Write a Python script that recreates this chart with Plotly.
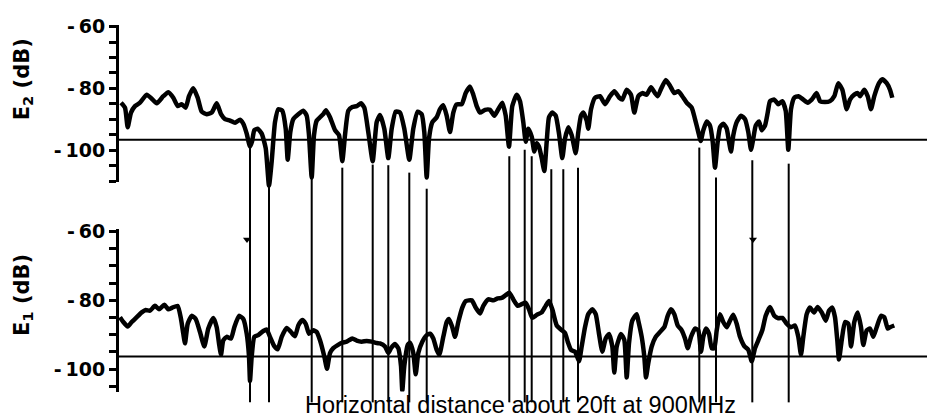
import plotly.graph_objects as go

# ---------------- data ----------------
# position along the run (arbitrary distance units, 0 = left axis), level in dB
e2_pos = [4, 8, 10.7, 14, 18, 23, 29.7, 34.7, 39.7, 46.3, 51.3, 56.3, 60.7, 64.7, 68.7, 72, 76.3, 80.7,
          84.7, 89.7, 94.7, 99.7, 104, 108, 113, 118, 123, 126.3, 129.7, 133, 135, 137.3, 140.7, 144.7,
          148.7, 152, 154.7, 158, 161.3, 165.3, 168.7, 170.7, 173.3, 176.3, 181.3, 186.3, 189.7, 192,
          194.7, 197, 199.7, 203, 206.3, 209, 213, 218, 222, 225.3, 228, 231.3, 235.3, 239.7, 244, 247.3,
          251.3, 255.7, 259.7, 263, 267.3, 271.3, 274.7, 278.7, 283, 287.3, 292.3, 296.3, 300.7, 304.7,
          307.3, 309.7, 312, 315.3, 319.7, 323, 326.3, 329.7, 333, 336.3, 339.7, 344.7, 348.7, 353, 356.3,
          359.7, 363, 368, 373, 377.3, 381.3, 385.3, 388.7, 392, 395.3, 399.7, 403, 406.3, 408.7, 411.3,
          414.7, 417.3, 419.7, 422, 424.7, 427.3, 429.7, 432, 435.3, 438.7, 442, 445.3, 448, 451.3, 454.7,
          458.7, 461.3, 464, 466.3, 469.7, 471.3, 474, 478, 483, 488, 493, 497.3, 502.3, 505.3, 509.7, 514,
          517.3, 521.3, 525.3, 529.7, 534, 538, 540.7, 544, 548.7, 553, 557.3, 561.3, 565.3, 569.7, 574.7,
          578, 581.3, 583.7, 586.3, 589.7, 593, 595.7, 598, 600.7, 603, 606.3, 609.7, 612, 614, 616.3,
          619.7, 624, 628, 631.3, 634, 636.3, 638.7, 642, 644.7, 648, 650.7, 653, 657.3, 661.3, 665.3,
          668.7, 671.3, 674, 677.3, 681.3, 686.3, 690.7, 694.7, 699.7, 703, 708, 713, 717.3, 721.3, 725.3,
          729.7, 733, 737.3, 740.7, 743, 747.3, 750.7, 754, 757.3, 762, 765.3, 769.7, 773, 775.3]
e2_db = [-84.6, -86.2, -92.5, -87.8, -85.7, -84.6, -82.0, -83.3, -84.8, -82.5, -81.2, -83.0, -85.7, -85.1,
         -86.2, -82.5, -79.9, -83.0, -87.5, -88.3, -87.8, -84.8, -88.3, -89.9, -90.4, -91.1, -90.1, -91.4,
         -94.6, -98.8, -97.2, -93.5, -93.0, -94.6, -99.3, -111.4, -103.5, -90.9, -86.7, -87.2, -93.0,
         -103.0, -94.1, -89.9, -88.3, -87.2, -88.8, -95.1, -108.8, -95.1, -90.4, -89.3, -88.3, -87.0,
         -89.3, -93.5, -95.1, -103.5, -95.1, -87.2, -86.0, -85.7, -84.8, -86.2, -94.1, -103.5, -90.9,
         -88.6, -93.0, -102.5, -93.0, -87.5, -87.8, -93.0, -103.0, -93.0, -87.5, -88.3, -94.1, -108.8,
         -96.2, -90.9, -89.3, -86.7, -85.4, -88.8, -94.1, -87.8, -85.1, -85.1, -81.5, -79.4, -82.0, -85.7,
         -87.8, -86.9, -86.9, -88.8, -86.7, -84.6, -88.8, -98.8, -85.7, -82.0, -84.1, -90.9, -97.2, -93.0,
         -95.6, -100.4, -97.7, -98.8, -102.5, -106.7, -97.2, -89.3, -87.8, -88.8, -94.6, -102.5, -96.2,
         -92.5, -95.1, -100.9, -94.1, -88.8, -87.8, -90.4, -93.0, -86.7, -83.0, -82.5, -85.1, -82.5, -80.9,
         -83.0, -83.6, -80.4, -82.0, -87.8, -82.5, -81.5, -82.0, -79.6, -81.5, -82.5, -80.2, -77.3, -79.1,
         -81.5, -80.9, -82.5, -84.6, -86.2, -89.9, -94.1, -97.0, -93.5, -90.7, -92.0, -97.2, -105.6, -97.2,
         -92.5, -91.4, -93.0, -97.2, -100.4, -95.1, -90.9, -88.8, -89.9, -94.1, -99.8, -96.2, -92.0, -90.7,
         -93.5, -92.0, -87.8, -84.1, -83.6, -85.1, -84.1, -87.2, -99.8, -86.7, -83.0, -82.5, -83.6, -84.6,
         -83.6, -81.5, -84.1, -84.4, -84.1, -82.5, -78.3, -80.4, -86.7, -83.6, -82.0, -81.5, -82.5, -80.4,
         -82.5, -86.7, -82.5, -78.3, -77.0, -78.3, -80.4, -83.0]

e1_pos = [3, 6.3, 10.7, 14.7, 19.7, 24.7, 28.7, 33, 38, 42, 47.3, 51.3, 55.3, 60.7, 64, 66.3, 68, 70.7, 74.7,
          78.7, 83, 87.3, 91.3, 96.3, 99.7, 102, 104, 106.3, 109.7, 114, 117.3, 122, 126.3, 129.7, 132, 133,
          134.7, 137.3, 141.3, 146.3, 149.7, 153, 157.3, 160.7, 164.7, 169.7, 174, 178, 181.3, 185.3, 188.7,
          192, 196.3, 199.7, 203, 207.3, 210, 213, 216.3, 220.7, 225.3, 229.7, 235.3, 239.7, 244.7, 249.7,
          254.7, 259.7, 263, 268, 271.3, 274, 278, 281.3, 284, 285.3, 287.3, 290.7, 293, 296.3, 298.7, 301.3,
          305.3, 309.7, 313, 316.3, 319.7, 322.3, 326.3, 329.7, 332, 335.3, 338, 341.3, 345.3, 348.7, 354.7,
          358.7, 363, 366.3, 371.3, 376.3, 380.7, 384.7, 388.7, 392.3, 396.3, 400.7, 404.7, 408.7, 412, 415.3,
          419.7, 424.7, 428.7, 432, 435.3, 439.7, 444, 448, 450.7, 454, 458, 462, 464.7, 468, 471.3, 475.3,
          478.7, 482, 485.3, 488.7, 492, 495.3, 497.3, 499.7, 504, 507.3, 509.7, 512, 515.3, 519.7, 521.3,
          524.7, 527.3, 529, 531.3, 534.7, 538.7, 543, 547.3, 550.7, 554, 557.3, 560.7, 564.7, 568, 570.7,
          574, 578, 581.3, 584, 586.3, 589, 592, 594.7, 597.3, 599.7, 603, 606.3, 609.7, 613, 616.3, 619.7,
          623, 627.3, 631.3, 634.7, 638, 641.3, 645.3, 648.7, 653, 657.3, 661.3, 665.3, 669.7, 674, 678,
          681.3, 684, 686.3, 689.7, 693, 697, 700.7, 704.7, 708.7, 712, 715.3, 718, 720.3, 722, 724.7, 728,
          731.3, 734, 737.3, 740.7, 744, 746.3, 749.7, 753, 756.3, 759.7, 764, 767.3, 770.7, 773, 777.3]
e1_db = [-84.9, -86.3, -87.6, -86.3, -84.9, -83.5, -82.8, -83.0, -81.6, -82.6, -81.3, -82.6, -82.1, -81.6,
         -85.4, -89.7, -92.5, -86.8, -84.5, -85.4, -89.2, -93.4, -88.2, -85.1, -87.8, -92.5, -95.8, -91.6,
         -90.6, -91.1, -87.8, -84.5, -85.4, -89.7, -96.3, -103.4, -96.3, -90.6, -90.1, -88.9, -88.5, -90.6,
         -93.3, -94.2, -90.6, -88.0, -89.2, -90.4, -87.3, -85.7, -86.8, -89.7, -88.7, -89.2, -91.6, -96.3,
         -99.9, -95.3, -93.9, -93.0, -92.3, -92.0, -91.1, -91.7, -92.0, -91.8, -92.0, -92.4, -92.5, -93.4,
         -95.3, -93.9, -92.7, -93.9, -99.1, -106.2, -99.1, -93.0, -92.3, -95.3, -101.5, -95.3, -92.0, -90.1,
         -89.7, -91.1, -94.4, -95.8, -90.6, -86.3, -85.4, -87.8, -90.6, -86.3, -82.1, -80.2, -80.0, -82.1,
         -83.8, -81.6, -79.7, -80.0, -79.4, -79.3, -78.5, -77.8, -79.7, -81.6, -81.1, -80.7, -82.6, -85.1,
         -84.2, -83.5, -81.6, -80.2, -82.6, -87.3, -88.5, -89.5, -92.0, -94.4, -94.9, -97.7, -93.4, -87.8,
         -84.0, -82.6, -84.0, -89.7, -94.9, -91.1, -89.8, -93.4, -101.0, -93.4, -89.8, -91.5, -102.4, -92.5,
         -85.9, -84.0, -85.9, -90.6, -96.3, -102.4, -98.2, -93.4, -90.6, -89.2, -87.8, -84.5, -82.6, -84.0,
         -87.3, -88.7, -91.1, -93.9, -90.6, -88.2, -88.7, -94.9, -90.6, -88.2, -89.7, -93.9, -93.9, -88.7,
         -84.0, -86.3, -87.8, -85.9, -84.2, -86.8, -90.6, -93.3, -94.4, -97.7, -93.9, -91.6, -88.7, -84.5,
         -81.9, -84.5, -85.2, -85.1, -86.8, -87.8, -87.3, -90.6, -95.8, -90.6, -84.0, -82.1, -83.5, -81.9,
         -83.5, -85.9, -83.0, -82.1, -84.9, -91.6, -97.2, -91.6, -86.3, -86.8, -93.4, -86.3, -83.5, -87.8,
         -93.0, -88.7, -88.2, -90.6, -87.8, -84.5, -84.9, -88.2, -87.8, -87.3]

# positions of the E2 nulls that are carried down to E1, and the E2 level where each line starts
null_pos = [133, 152, 194.7, 225.3, 255.7, 271.3, 292.3, 309.7, 392.3, 407.7, 414.7, 434.3, 446.3, 461,
            582.3, 599, 635.3, 671.7]
null_top_db = [-98.8, -111.4, -108.8, -105.6, -104.6, -104.8, -107.2, -112.4, -101.9, -99.8, -101.9,
               -106.1, -106.1, -105.6, -99.1, -108.8, -103.2, -104.3]

arrow_pos = [130, 636]
arrow_db = [-62.3, -62.3]

threshold_e2 = -96.6
threshold_e1 = -96.3

major_ticks = [-60, -80, -100]
major_labels = ["-\u200960", "-\u200980", "-\u2009100"]

e2_title = "E<sub>2</sub> (dB)"
e1_title = "E<sub>1</sub> (dB)"
x_title = "Horizontal distance about 20ft at 900MHz"

# ---------------- layout geometry (pixels of the 927x417 page) ----------------
W, H = 927, 417
AXIS_PX = 117
x_range = [-AXIS_PX, W - AXIS_PX]
E2_M60_PX, E2_PX_PER_DB = 17, 3.17
E1_M60_PX, E1_PX_PER_DB = 227, 3.525


def panel(top_px, bottom_px, m60_px, px_per_db):
    dom = [1 - bottom_px / H, 1 - top_px / H]
    rng = [-60 - (bottom_px - m60_px) / px_per_db, -60 + (m60_px - top_px) / px_per_db]
    return dom, rng


e2_dom, e2_rng = panel(15.5, 176, E2_M60_PX, E2_PX_PER_DB)       # visible E2 scale
full_dom, full_rng = panel(5, 412, E2_M60_PX, E2_PX_PER_DB)      # same E2 scale, whole height
e1_dom, e1_rng = panel(224, 391, E1_M60_PX, E1_PX_PER_DB)        # visible E1 scale
line_bottom = -60 - (402 - E2_M60_PX) / E2_PX_PER_DB              # lower end of null lines

BLACK = "black"
tickfont = dict(family="DejaVu Sans", size=19, color=BLACK, weight="bold")

fig = go.Figure()

# threshold lines
fig.add_trace(go.Scatter(x=[0, x_range[1]], y=[threshold_e2, threshold_e2], mode="lines",
                         line=dict(color=BLACK, width=2), yaxis="y", hoverinfo="skip"))
fig.add_trace(go.Scatter(x=[0, x_range[1]], y=[threshold_e1, threshold_e1], mode="lines",
                         line=dict(color=BLACK, width=2), yaxis="y2", hoverinfo="skip"))

# null connector lines (E2 scale, extended over the full height)
vx, vy = [], []
for p, t in zip(null_pos, null_top_db):
    vx += [p, p, None]
    vy += [t, line_bottom, None]
fig.add_trace(go.Scatter(x=vx, y=vy, mode="lines", line=dict(color=BLACK, width=2),
                         yaxis="y3", hoverinfo="skip"))

fig.add_trace(go.Scatter(x=e2_pos, y=e2_db, mode="lines",
                         line=dict(color=BLACK, width=4.5, shape="spline", smoothing=0.5), yaxis="y3"))
fig.add_trace(go.Scatter(x=e1_pos, y=e1_db, mode="lines",
                         line=dict(color=BLACK, width=4.5, shape="spline", smoothing=0.5), yaxis="y2"))
fig.add_trace(go.Scatter(x=arrow_pos, y=arrow_db, mode="markers",
                         marker=dict(symbol="triangle-down", size=7, color=BLACK),
                         yaxis="y2", hoverinfo="skip"))


def yaxis(dom, rng):
    return dict(domain=dom, range=rng, anchor="free", position=AXIS_PX / W,
                tickmode="array", tickvals=major_ticks, ticktext=major_labels,
                ticks="outside", ticklen=7, tickwidth=2.5, tickcolor=BLACK,
                minor=dict(dtick=5, tick0=-60, ticks="outside", ticklen=7, tickwidth=2.5,
                           tickcolor=BLACK, showgrid=False),
                showline=True, linewidth=3, linecolor=BLACK,
                showgrid=False, zeroline=False, tickfont=tickfont, fixedrange=True)


fig.update_layout(
    width=W, height=H, margin=dict(l=0, r=0, t=0, b=0),
    paper_bgcolor="white", plot_bgcolor="rgba(0,0,0,0)",
    xaxis=dict(domain=[0, 1], range=x_range, visible=False, fixedrange=True),
    yaxis=yaxis(e2_dom, e2_rng),
    yaxis2=yaxis(e1_dom, e1_rng),
    yaxis3=dict(domain=full_dom, range=full_rng, anchor="x", visible=False, fixedrange=True),
    annotations=[
        dict(text=e2_title, textangle=-90, xref="paper", yref="paper", x=23 / W, y=1 - 71 / H,
             xanchor="center", yanchor="middle", showarrow=False,
             font=dict(family="DejaVu Sans", size=21, color=BLACK, weight="bold")),
        dict(text=e1_title, textangle=-90, xref="paper", yref="paper", x=23 / W, y=1 - 292 / H,
             xanchor="center", yanchor="middle", showarrow=False,
             font=dict(family="DejaVu Sans", size=21, color=BLACK, weight="bold")),
        dict(text=x_title, xref="paper", yref="paper", x=520 / W, y=1 - 405 / H,
             xanchor="center", yanchor="middle", showarrow=False,
             font=dict(family="Liberation Sans", size=23.5, color=BLACK)),
    ],
    showlegend=False,
)

fig.write_html("out.html", post_script="document.body.style.margin='0';",
               config={"displayModeBar": False})
